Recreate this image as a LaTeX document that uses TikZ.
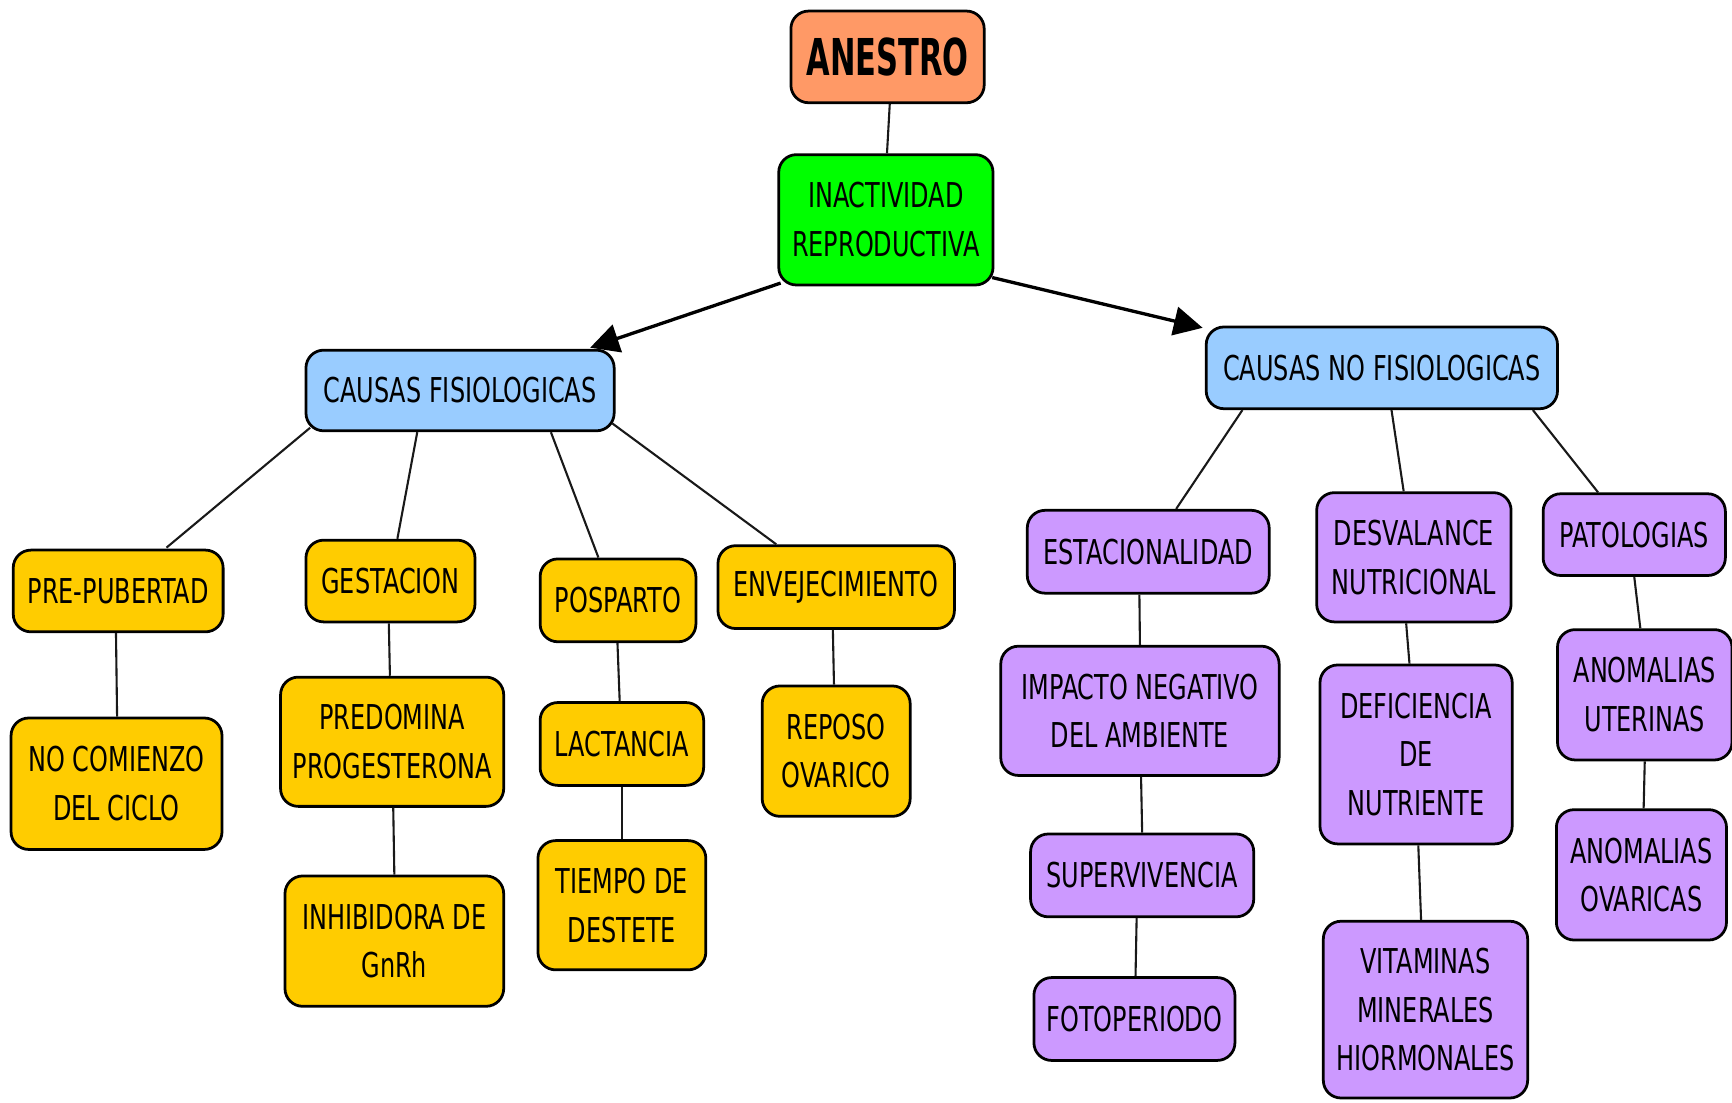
\documentclass[tikz,border=0pt]{standalone}
\usepackage{fontspec}
\setmainfont[FakeStretch=0.7]{DejaVu Sans}
\newfontfamily\titlefont[FakeStretch=0.6]{DejaVu Sans Bold}
\usetikzlibrary{arrows.meta,calc}
\definecolor{cOrange}{RGB}{255,153,102}
\definecolor{cGreen}{RGB}{0,255,0}
\definecolor{cBlue}{RGB}{153,204,255}
\definecolor{cYellow}{RGB}{255,204,0}
\definecolor{cPurple}{RGB}{204,153,255}
\begin{document}
\begin{tikzpicture}[x=0.5pt,y=-0.5pt,
  box/.style={draw=black,line width=1.25pt,rounded corners=8pt,align=center,inner sep=0pt,
    font=\fontsize{15.5}{22}\selectfont},
  yb/.style={box,fill=cYellow},
  pb/.style={box,fill=cPurple},
  bb/.style={box,fill=cBlue},
  link/.style={draw=black!90,line width=0.95pt},
  arr/.style={draw=black,line width=1.5pt,-{Triangle[length=13pt,width=13pt]}}]
\useasboundingbox (0,0) rectangle (1568,998);
\newcommand\bx[7]{\node[#1,minimum width=#4*0.5pt,minimum height=#5*0.5pt] (#6) at (#2,#3) {#7};}
% top
\bx{box,fill=cOrange,font=\titlefont\fontsize{23}{26}\selectfont}{803.5}{51.5}{175}{83}{an}{ANESTRO}
\bx{box,fill=cGreen}{802}{199}{194}{118}{ia}{INACTIVIDAD\\REPRODUCTIVA}
\bx{bb}{416.5}{353.5}{279}{73}{cf}{CAUSAS FISIOLOGICAS}
\bx{bb}{1251}{333}{318}{74}{cn}{CAUSAS NO FISIOLOGICAS}
% yellow
\bx{yb}{107}{535}{190}{74}{pp}{PRE-PUBERTAD}
\bx{yb}{353.5}{526}{153}{74}{ge}{GESTACION}
\bx{yb}{559.5}{543.5}{141}{75}{po}{POSPARTO}
\bx{yb}{757}{531.5}{214}{75}{en}{ENVEJECIMIENTO}
\bx{yb}{105.5}{709.5}{191}{119}{nc}{NO COMIENZO\\DEL CICLO}
\bx{yb}{355}{671.5}{202}{117}{pr}{PREDOMINA\\PROGESTERONA}
\bx{yb}{357}{852}{198}{118}{ih}{INHIBIDORA DE\\GnRh}
\bx{yb}{563}{673.5}{148}{75}{la}{LACTANCIA}
\bx{yb}{563}{819.5}{152}{117}{ti}{TIEMPO DE\\DESTETE}
\bx{yb}{757}{680}{134}{118}{re}{REPOSO\\OVARICO}
% purple
\bx{pb}{1039.5}{499.5}{219}{75}{es}{ESTACIONALIDAD}
\bx{pb}{1032}{643.5}{252}{117}{im}{IMPACTO NEGATIVO\\DEL AMBIENTE}
\bx{pb}{1034}{792.5}{202}{75}{su}{SUPERVIVENCIA}
\bx{pb}{1027}{922.5}{182}{75}{fo}{FOTOPERIODO}
\bx{pb}{1280}{504.5}{176}{117}{de}{DESVALANCE\\NUTRICIONAL}
\bx{pb}{1282}{683}{174}{162}{df}{DEFICIENCIA\\DE\\NUTRIENTE}
\bx{pb}{1290.5}{914}{185}{160}{vi}{VITAMINAS\\MINERALES\\HIORMONALES}
\bx{pb}{1479.5}{484}{165}{74}{pa}{PATOLOGIAS}
\bx{pb}{1489}{629}{158}{118}{au}{ANOMALIAS\\UTERINAS}
\bx{pb}{1486}{792}{154}{118}{ao}{ANOMALIAS\\OVARICAS}
% connectors
\draw[link] ([xshift=1pt]an.south) -- ([xshift=0.5pt]ia.north);
\draw[arr] ($(ia.south west)+(3,-3)$) -- ($(cf.north east)+(-23,-1)$);
\draw[arr] ($(ia.south east)+(-2,-8)$) -- ($(cn.north west)+(-2,2)$);
\draw[link] ($(cf.south west)+(5,-4)$) -- ($(pp.north west)+(140,-1)$);
\draw[link] ($(cf.south west)+(102,0)$) -- ($(ge.north west)+(84,0)$);
\draw[link] ($(cf.south west)+(223,0)$) -- ($(po.north west)+(54,0)$);
\draw[link] ($(cf.south east)+(-3,-8)$) -- ($(en.north west)+(54,0)$);
\draw[link] ($(cn.south west)+(34,0)$) -- ($(es.north west)+(136,0)$);
\draw[link] ($(cn.south west)+(169,0)$) -- ($(de.north west)+(80,0)$);
\draw[link] ($(cn.south west)+(297,0)$) -- ($(pa.north west)+(51,0)$);
\draw[link] ([xshift=-1pt]pp.south) -- ([xshift=0.25pt]nc.north);
\draw[link] ([xshift=-0.75pt]ge.south) -- ([xshift=-1pt]pr.north);
\draw[link] ([xshift=0.5pt]pr.south) -- ([xshift=0pt]ih.north);
\draw[link] ([xshift=-0.25pt]po.south) -- ([xshift=-1pt]la.north);
\draw[link] (la.south) -- (ti.north);
\draw[link] ([xshift=-1.5pt]en.south) -- ([xshift=-1pt]re.north);
\draw[link] ([xshift=-4pt]es.south) -- (im.north);
\draw[link] ([xshift=0.5pt]im.south) -- (su.north);
\draw[link] ([xshift=-2.5pt]su.south) -- ([xshift=0.5pt]fo.north);
\draw[link] ([xshift=-3.5pt]de.south) -- ([xshift=-3pt]df.north);
\draw[link] ([xshift=1pt]df.south) -- ([xshift=-2pt]vi.north);
\draw[link] (pa.south) -- ([xshift=-2pt]au.north);
\draw[link] (au.south) -- ([xshift=1pt]ao.north);
\end{tikzpicture}
\end{document}
